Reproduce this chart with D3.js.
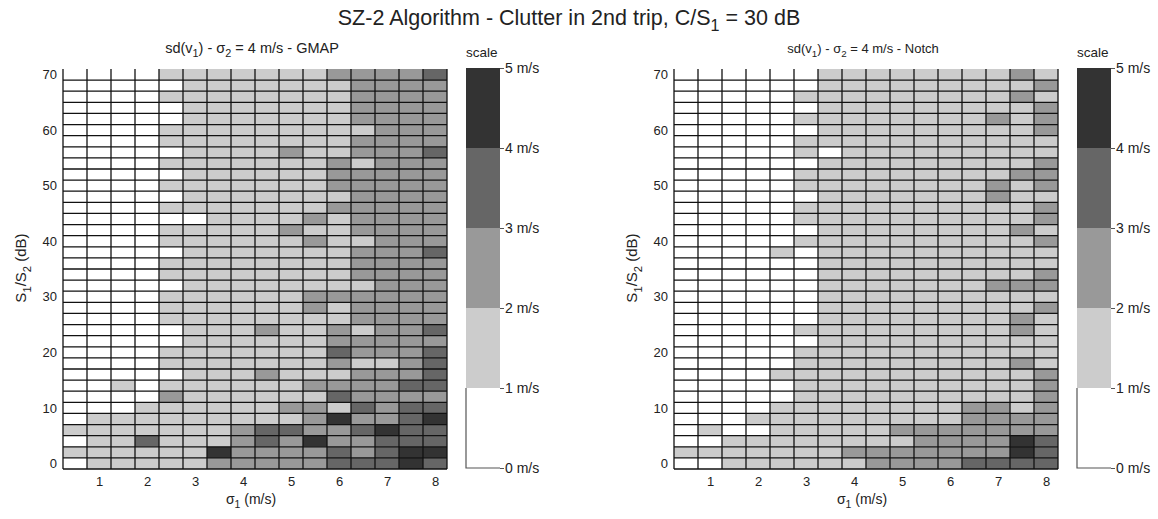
<!DOCTYPE html>
<html>
<head>
<meta charset="utf-8">
<script src="https://cdn.jsdelivr.net/npm/d3@7"></script>
<style>
  body { margin: 0; background: #fff; }
  text { font-family: "Liberation Sans", Arial, Helvetica, sans-serif; fill: #222; }
</style>
</head>
<body>
<div id="chart"></div>
<script>
/* Data: sd(v1) level per cell, 0 = 0-1 m/s ... 4 = 4-5 m/s */
const sigma1 = [0.5, 1, 1.5, 2, 2.5, 3, 3.5, 4, 4.5, 5, 5.5, 6, 6.5, 7, 7.5, 8];
// rows listed from top (70 dB) to bottom (0 dB)
const snrDb = [70, 68, 66, 64, 62, 60, 58, 56, 54, 52, 50, 48, 46, 44, 42, 40, 38, 36,
               34, 32, 30, 28, 26, 24, 22, 20, 18, 16, 14, 12, 10, 8, 6, 4, 2, 0];
const xTicks = [1, 2, 3, 4, 5, 6, 7, 8];
const yTicks = [0, 10, 20, 30, 40, 50, 60, 70];
const scaleTicks = [0, 1, 2, 3, 4, 5];
const levelColors = ["#ffffff", "#cccccc", "#999999", "#666666", "#333333"];

const gmap = [
    [0,0,0,0,1,1,1,1,1,1,1,2,2,2,2,3],
    [0,0,0,0,0,1,1,1,1,1,1,1,2,2,2,2],
    [0,0,0,0,1,1,1,1,1,1,1,1,2,2,2,2],
    [0,0,0,0,0,1,1,1,1,1,1,1,2,2,2,2],
    [0,0,0,0,0,1,1,1,1,1,1,1,2,2,2,2],
    [0,0,0,0,1,1,1,1,1,1,1,1,1,2,2,2],
    [0,0,0,0,1,1,1,1,1,1,1,1,2,2,2,2],
    [0,0,0,0,0,1,1,1,1,2,1,1,2,2,2,3],
    [0,0,0,0,1,1,1,1,1,1,1,2,1,2,2,2],
    [0,0,0,0,0,1,1,1,1,1,1,2,2,2,2,2],
    [0,0,0,0,1,1,1,1,1,1,1,2,2,2,2,2],
    [0,0,0,0,0,1,1,1,1,1,1,1,2,2,2,2],
    [0,0,0,0,1,1,1,1,1,1,1,2,2,2,2,2],
    [0,0,0,0,0,0,1,1,1,1,2,1,2,2,2,2],
    [0,0,0,0,1,1,1,1,1,2,1,1,2,2,2,2],
    [0,0,0,0,1,1,1,1,1,1,2,1,1,2,2,2],
    [0,0,0,0,0,1,1,1,1,1,1,1,2,2,2,3],
    [0,0,0,0,1,1,1,1,1,1,1,1,2,2,2,2],
    [0,0,0,0,1,1,1,1,1,1,1,1,2,2,2,2],
    [0,0,0,0,0,1,1,1,1,1,1,1,1,2,2,2],
    [0,0,0,0,1,1,1,1,1,1,2,2,2,2,2,2],
    [0,0,0,0,1,1,1,1,1,1,2,1,2,2,2,2],
    [0,0,0,0,1,1,1,1,1,1,1,1,2,2,2,2],
    [0,0,0,0,0,1,1,1,2,1,1,2,1,2,2,3],
    [0,0,0,0,0,1,1,1,1,1,1,2,2,2,2,2],
    [0,0,0,0,1,1,1,1,1,1,1,3,2,2,2,3],
    [0,0,0,0,1,1,1,1,1,1,1,2,1,1,2,3],
    [0,0,0,0,0,1,1,1,2,1,1,1,2,2,2,3],
    [0,0,1,0,1,1,1,1,1,1,2,2,2,2,3,3],
    [0,0,0,0,2,1,1,1,1,1,1,3,2,2,2,2],
    [0,0,0,1,1,1,1,1,1,2,2,1,3,2,3,3],
    [0,1,1,1,1,1,1,1,1,1,2,4,2,2,3,4],
    [1,1,1,1,1,1,1,2,3,3,2,2,3,4,3,3],
    [0,1,1,3,1,1,1,2,3,2,4,2,2,3,3,3],
    [1,1,1,1,1,1,4,2,2,2,2,3,2,3,4,4],
    [0,1,1,1,1,1,2,2,2,2,2,3,3,3,4,3]
];

const notch = [
    [0,0,0,0,0,0,1,1,1,1,1,1,1,1,2,1],
    [0,0,0,0,0,0,1,1,1,1,1,1,1,1,1,2],
    [0,0,0,0,0,1,1,1,1,1,1,1,1,1,2,1],
    [0,0,0,0,0,0,1,1,1,1,1,1,1,1,1,2],
    [0,0,0,0,0,1,1,1,1,1,1,1,1,2,1,2],
    [0,0,0,0,0,0,1,1,1,1,1,1,1,1,1,2],
    [0,0,0,0,0,1,1,1,1,1,1,1,1,1,1,1],
    [0,0,0,0,0,1,0,1,1,1,1,1,1,1,1,1],
    [0,0,0,0,0,0,1,1,1,1,1,1,1,1,1,2],
    [0,0,0,0,0,1,1,1,1,1,1,1,1,1,2,2],
    [0,0,0,0,0,1,1,1,1,1,1,1,1,2,1,2],
    [0,0,0,0,0,0,1,1,1,1,1,1,1,2,1,1],
    [0,0,0,0,0,1,1,1,1,1,1,1,1,1,1,2],
    [0,0,0,0,0,1,1,1,1,1,1,1,1,1,1,2],
    [0,0,0,0,0,0,1,1,1,1,1,1,1,1,2,1],
    [0,0,0,0,0,1,1,1,1,1,1,1,1,1,1,2],
    [0,0,0,0,1,0,1,1,1,1,1,1,1,1,1,1],
    [0,0,0,0,0,0,1,1,1,1,1,1,1,1,1,1],
    [0,0,0,0,0,0,1,1,1,1,1,1,1,1,1,2],
    [0,0,0,0,0,0,1,1,1,1,1,1,1,2,2,2],
    [0,0,0,0,0,0,1,1,1,1,1,1,1,1,1,1],
    [0,0,0,0,0,0,1,1,1,1,1,1,1,1,1,2],
    [0,0,0,0,0,0,1,1,1,1,1,1,1,1,2,1],
    [0,0,0,0,0,1,1,1,1,1,1,1,1,1,2,1],
    [0,0,0,0,0,0,1,1,1,1,1,1,1,1,1,1],
    [0,0,0,0,0,1,1,1,1,1,1,1,1,1,1,1],
    [0,0,0,0,0,1,1,1,1,1,1,1,1,1,2,1],
    [0,0,0,0,1,1,1,1,1,1,1,1,1,1,1,2],
    [0,0,0,0,0,1,1,1,1,1,1,1,1,1,1,2],
    [0,0,0,0,0,1,1,1,1,1,1,1,1,1,1,2],
    [0,0,0,0,1,1,1,1,1,1,1,1,2,2,1,2],
    [0,0,0,1,1,1,1,1,1,1,1,1,2,2,2,2],
    [0,1,0,0,1,1,1,1,1,2,2,2,2,2,2,2],
    [0,0,1,1,1,1,1,1,1,1,2,2,2,2,4,3],
    [1,1,1,1,1,1,1,2,2,2,2,2,2,2,4,3],
    [0,0,1,1,1,1,1,1,2,2,2,2,3,3,3,3]
];

/* Layout */
const W = 1158, H = 519;
const plotTop = 69, plotBottom = 469, plotW = 384;

const svg = d3.select("#chart").append("svg")
    .attr("width", W)
    .attr("height", H);

/* write text with subscript pieces: parts = [[str, isSub], ...] */
function richText(sel, parts, size) {
    parts.forEach(function (p, i) {
        const prevSub = i > 0 && parts[i - 1][1];
        let dy = 0;
        if (p[1] && !prevSub) dy = size * 0.3;
        if (!p[1] && prevSub) dy = -size * 0.3;
        sel.append("tspan")
            .attr("dy", dy)
            .style("font-size", (p[1] ? size * 0.75 : size) + "px")
            .text(p[0]);
    });
    return sel;
}

/* Main title */
richText(svg.append("text")
    .attr("x", 569).attr("y", 25)
    .attr("text-anchor", "middle"),
    [["SZ-2 Algorithm - Clutter in 2nd trip, C/S", false], ["1", true], [" = 30 dB", false]], 21.5);

function drawPanel(x0, values, name, subSize) {
    const x = d3.scaleLinear().domain([0.25, 8.25]).range([x0, x0 + plotW]);
    const y = d3.scaleLinear().domain([-1, 71]).range([plotBottom, plotTop]);
    const color = d3.scaleOrdinal().domain([0, 1, 2, 3, 4]).range(levelColors);
    const g = svg.append("g");

    /* cells */
    const cells = [];
    values.forEach(function (row, r) {
        row.forEach(function (v, c) {
            cells.push({ s: sigma1[c], db: snrDb[r], v: v });
        });
    });
    g.selectAll("rect.cell")
        .data(cells)
        .enter().append("rect")
        .attr("class", "cell")
        .attr("x", d => x(d.s - 0.25))
        .attr("y", d => y(d.db + 1))
        .attr("width", x(0.5) - x(0))
        .attr("height", y(0) - y(2))
        .attr("fill", d => color(d.v));

    /* cell edges: vertical lines full height, horizontal lines below each row */
    g.selectAll("line.v")
        .data(sigma1.map(s => s - 0.25).concat([8.25]))
        .enter().append("line")
        .attr("x1", d => x(d)).attr("x2", d => x(d))
        .attr("y1", plotTop).attr("y2", plotBottom)
        .attr("stroke", "#111").attr("stroke-width", 1.3);
    g.selectAll("line.h")
        .data(snrDb.map(db => db - 1))
        .enter().append("line")
        .attr("x1", x0).attr("x2", x0 + plotW)
        .attr("y1", d => y(d)).attr("y2", d => y(d))
        .attr("stroke", "#111").attr("stroke-width", 1.3);

    /* axes */
    const yAxis = g.append("g")
        .attr("transform", "translate(" + (x0 - 2) + ",0)")
        .call(d3.axisLeft(y).tickValues(yTicks).tickSize(0).tickPadding(4));
    yAxis.select(".domain").remove();
    yAxis.selectAll("text").style("font-size", "13px").attr("fill", "#222");

    const xAxis = g.append("g")
        .attr("transform", "translate(0," + (plotBottom + 4) + ")")
        .call(d3.axisBottom(x).tickValues(xTicks).tickSize(0).tickPadding(4));
    xAxis.select(".domain").remove();
    xAxis.selectAll("text").style("font-size", "13px").attr("fill", "#222");

    /* axis labels */
    richText(g.append("text")
        .attr("x", x0 + plotW / 2 - 4).attr("y", 504)
        .attr("text-anchor", "middle"),
        [["σ", false], ["1", true], [" (m/s)", false]], 14);

    richText(g.append("text")
        .attr("transform", "translate(" + (x0 - 37) + "," + 268 + ") rotate(-90)")
        .attr("text-anchor", "middle"),
        [["S", false], ["1", true], ["/S", false], ["2", true], [" (dB)", false]], 15);

    /* subplot title */
    richText(g.append("text")
        .attr("x", x0 + plotW / 2 - 3).attr("y", 53)
        .attr("text-anchor", "middle"),
        [["sd(v", false], ["1", true], [") - σ", false], ["2", true], [" = 4 m/s - " + name, false]], subSize);

    /* colour scale bar */
    const cbx = x0 + 403, cbw = 34;
    const cs = d3.scaleLinear().domain([0, 5]).range([plotBottom - 1, plotTop - 1]);
    g.selectAll("rect.cb")
        .data([0, 1, 2, 3, 4])
        .enter().append("rect")
        .attr("x", cbx)
        .attr("y", d => cs(d + 1))
        .attr("width", cbw)
        .attr("height", d => cs(d) - cs(d + 1))
        .attr("fill", d => levelColors[d]);
    g.append("path")
        .attr("d", "M" + cbx + "," + cs(1) + "V" + cs(0) + "H" + (cbx + cbw))
        .attr("fill", "none").attr("stroke", "#555").attr("stroke-width", 1.2);
    const cAxis = g.append("g")
        .attr("transform", "translate(" + (cbx + cbw) + ",0)")
        .call(d3.axisRight(cs).tickValues(scaleTicks).tickSize(4).tickPadding(1)
            .tickFormat(d => d + " m/s"));
    cAxis.select(".domain").remove();
    cAxis.selectAll("line").attr("stroke", "#555");
    cAxis.selectAll("text").style("font-size", "14px").attr("fill", "#222");

    g.append("text")
        .attr("x", cbx).attr("y", 57)
        .style("font-size", "13.5px")
        .text("scale");
}

drawPanel(63, gmap, "GMAP", 14.5);
drawPanel(674, notch, "Notch", 13);
</script>
</body>
</html>
